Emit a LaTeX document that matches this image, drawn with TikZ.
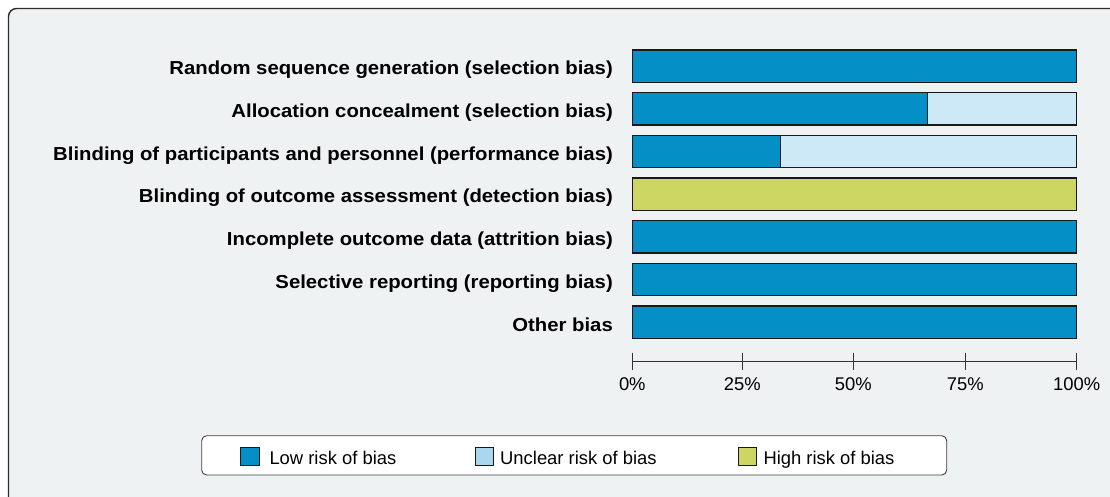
\documentclass[tikz,border=0pt]{standalone}
\usepackage{fontspec}
\setmainfont{Liberation Sans}
\newfontfamily\lblfont[FakeStretch=1.08]{Liberation Sans}
\definecolor{lowc}{RGB}{4,144,198}
\definecolor{uncc}{RGB}{205,232,246}
\definecolor{uncleg}{RGB}{170,214,238}
\definecolor{highc}{RGB}{205,214,98}
\definecolor{bgc}{RGB}{238,242,243}
\definecolor{framec}{RGB}{45,45,45}
\definecolor{barline}{RGB}{25,25,25}
\tikzset{
  lbl/.style={anchor=base east, inner sep=0pt, font=\lblfont\fontsize{18.8}{20}\selectfont\bfseries},
  ticklbl/.style={anchor=base, inner sep=0pt, font=\fontsize{18.4}{20}\selectfont},
  leglbl/.style={anchor=base west, inner sep=0pt, font=\fontsize{18.4}{20}\selectfont},
  barseg/.style={draw=barline, line width=1.1pt},
  legsq/.style={draw=barline, line width=0.9pt},
  axisline/.style={draw=black!80, line width=0.9pt}
}
\begin{document}
\begin{tikzpicture}[x=1pt,y=-1pt]
\useasboundingbox (0,0) rectangle (1110,497);
\clip (0,0) rectangle (1110,497);
\fill[white] (0,0) rectangle (1110,497);
\draw[line width=1.4pt, draw=framec, fill=bgc, rounded corners=8pt] (8.5,8.5) rectangle (1140,530);
% bars
\def\xa{632.3}
\def\xb{1076.7}
% row 1
\draw[barseg, fill=lowc] (\xa,50) rectangle (\xb,82.3);
% row 2
\draw[barseg, fill=uncc] (927.7,92.7) rectangle (\xb,125);
\draw[barseg, fill=lowc] (\xa,92.7) rectangle (927.7,125);
% row 3
\draw[barseg, fill=uncc] (780.3,135.3) rectangle (\xb,167.7);
\draw[barseg, fill=lowc] (\xa,135.3) rectangle (780.3,167.7);
% row 4
\draw[barseg, fill=highc] (\xa,178) rectangle (\xb,210.3);
% row 5
\draw[barseg, fill=lowc] (\xa,220.7) rectangle (\xb,253);
% row 6
\draw[barseg, fill=lowc] (\xa,263.3) rectangle (\xb,295.6);
% row 7
\draw[barseg, fill=lowc] (\xa,306) rectangle (\xb,338.3);
% labels
\node[lbl] (l1) at (613,75) {Random sequence generation (selection bias)};
\node[lbl] (l2) at (613,117.7) {Allocation concealment (selection bias)};
\node[lbl] (l3) at (613,160.3) {Blinding of participants and personnel (performance bias)};
\node[lbl] (l4) at (613,203) {Blinding of outcome assessment (detection bias)};
\node[lbl] (l5) at (613,245.7) {Incomplete outcome data (attrition bias)};
\node[lbl] (l6) at (613,288.3) {Selective reporting (reporting bias)};
\node[lbl] (l7) at (613,331) {Other bias};
% axis
\draw[axisline] (\xa,361.7) -- (\xb,361.7);
\foreach \x/\t [count=\k] in {632.3/0\%,742.3/25\%,853.3/50\%,965.3/75\%,1076.7/100\%}{
  \draw[axisline] (\x,352.7) -- (\x,370);
  \node[ticklbl] (t\k) at (\x,390.7) {\t};
}
% legend
\draw[draw=black!75, line width=0.9pt, fill=white, rounded corners=5pt] (201.7,435.7) rectangle (946.7,475);
\draw[legsq, fill=lowc] (240.7,447.3) rectangle (259.3,465);
\node[leglbl] (g1) at (269.3,464) {Low risk of bias};
\draw[legsq, fill=uncleg] (475,447.3) rectangle (493.7,465);
\node[leglbl] (g2) at (500,464) {Unclear risk of bias};
\draw[legsq, fill=highc] (738.3,447.3) rectangle (756.7,465);
\node[leglbl] (g3) at (763.3,464) {High risk of bias};
\end{tikzpicture}
\end{document}
